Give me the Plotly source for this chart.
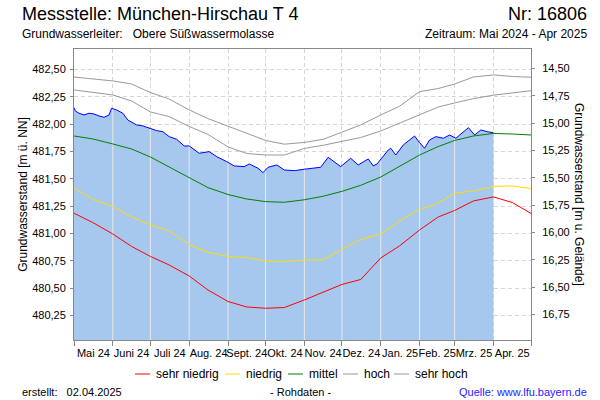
import numpy as np
import pandas as pd
import plotly.graph_objects as go

# ---------------- data ----------------
stat_dates = ["2024-05-01", "2024-05-16", "2024-06-01", "2024-06-16", "2024-07-01", "2024-07-16",
              "2024-08-01", "2024-08-16", "2024-09-01", "2024-09-16", "2024-10-01", "2024-10-16",
              "2024-11-01", "2024-11-16", "2024-12-01", "2024-12-16", "2025-01-01", "2025-01-16",
              "2025-02-01", "2025-02-16", "2025-03-01", "2025-03-16", "2025-04-01", "2025-04-16",
              "2025-05-01"]
sehr_hoch = [482.431, 482.415, 482.395, 482.367, 482.289, 482.230, 482.130, 482.051, 481.982, 481.910,
             481.851, 481.817, 481.833, 481.861, 481.924, 481.993, 482.084, 482.164, 482.297, 482.326,
             482.367, 482.431, 482.450, 482.436, 482.429]
hoch = [482.313, 482.290, 482.267, 482.212, 482.112, 482.069, 481.979, 481.906, 481.792, 481.732,
        481.718, 481.718, 481.778, 481.807, 481.842, 481.878, 481.938, 482.008, 482.084, 482.157,
        482.194, 482.233, 482.265, 482.285, 482.306]
mittel = [481.892, 481.865, 481.819, 481.773, 481.700, 481.609, 481.506, 481.420, 481.357, 481.316,
          481.292, 481.286, 481.309, 481.341, 481.386, 481.441, 481.517, 481.612, 481.718, 481.796,
          481.851, 481.892, 481.915, 481.910, 481.901]
niedrig = [481.417, 481.312, 481.248, 481.152, 481.079, 481.024, 480.900, 480.829, 480.791, 480.781,
           480.750, 480.743, 480.759, 480.759, 480.855, 480.946, 480.996, 481.115, 481.220, 481.280,
           481.368, 481.389, 481.431, 481.435, 481.412]
sehr_niedrig = [481.186, 481.101, 480.996, 480.882, 480.791, 480.713, 480.612, 480.484, 480.379, 480.329,
                480.317, 480.324, 480.393, 480.466, 480.535, 480.580, 480.777, 480.887, 481.033, 481.152,
                481.211, 481.298, 481.335, 481.284, 481.184]

obs_dates = ["2024-05-01", "2024-05-02", "2024-05-05", "2024-05-09", "2024-05-13", "2024-05-17",
             "2024-05-21", "2024-05-25", "2024-05-29", "2024-05-31", "2024-06-04", "2024-06-09",
             "2024-06-13", "2024-06-20", "2024-06-25", "2024-06-30", "2024-07-06", "2024-07-11",
             "2024-07-16", "2024-07-22", "2024-07-28", "2024-08-01", "2024-08-09", "2024-08-17",
             "2024-08-23", "2024-08-31", "2024-09-06", "2024-09-14", "2024-09-18", "2024-09-25",
             "2024-09-29", "2024-10-03", "2024-10-10", "2024-10-16", "2024-10-24", "2024-11-01",
             "2024-11-14", "2024-11-20", "2024-11-25", "2024-11-30", "2024-12-08", "2024-12-14",
             "2024-12-22", "2024-12-26", "2024-12-29", "2025-01-02", "2025-01-07", "2025-01-09",
             "2025-01-13", "2025-01-19", "2025-01-24", "2025-01-28", "2025-02-01", "2025-02-05",
             "2025-02-09", "2025-02-14", "2025-02-20", "2025-02-25", "2025-03-02", "2025-03-12",
             "2025-03-17", "2025-03-22", "2025-03-27", "2025-04-01"]
obs_values = [482.151, 482.121, 482.100, 482.084, 482.100, 482.093, 482.075, 482.063, 482.084, 482.145,
              482.130, 482.100, 482.038, 481.993, 481.984, 481.963, 481.941, 481.931, 481.886, 481.862,
              481.801, 481.801, 481.734, 481.749, 481.703, 481.657, 481.618, 481.612, 481.636, 481.597,
              481.557, 481.606, 481.627, 481.581, 481.575, 481.588, 481.606, 481.697, 481.657, 481.612,
              481.688, 481.627, 481.682, 481.618, 481.636, 481.691, 481.764, 481.780, 481.718, 481.810,
              481.856, 481.892, 481.831, 481.780, 481.856, 481.886, 481.871, 481.901, 481.871, 481.968,
              481.901, 481.947, 481.931, 481.922]

month_labels = ["Mai 24", "Juni 24", "Juli 24", "Aug. 24", "Sept. 24", "Okt. 24", "Nov. 24",
                "Dez. 24", "Jan. 25", "Feb. 25", "Mrz. 25", "Apr. 25"]
left_ticks = [480.25, 480.50, 480.75, 481.00, 481.25, 481.50, 481.75, 482.00, 482.25, 482.50]
right_ticks = [14.50, 14.75, 15.00, 15.25, 15.50, 15.75, 16.00, 16.25, 16.50, 16.75]
GROUND = 497.01  # Geländehöhe [m ü. NN]

series_names = ["sehr niedrig", "niedrig", "mittel", "hoch", "sehr hoch"]
series_values = [sehr_niedrig, niedrig, mittel, hoch, sehr_hoch]
series_colors = ["#ff0000", "#ffdd00", "#008000", "#999999", "#999999"]

# ---------------- layout geometry ----------------
W_PX, H_PX = 600, 400
L, R, T, B = 74, 69, 49, 60
PW, PH = W_PX - L - R, H_PX - T - B
Y_RANGE = [480.027, 482.687]
X_RANGE = ["2024-05-01", "2025-05-01"]
FONT = "Liberation Sans, Arial, sans-serif"


def px(x):
    return (x - L) / PW


def py(y):
    return (H_PX - B - y) / PH


month_starts = pd.date_range("2024-05-01", "2025-05-01", freq="MS")
month_mids = [s + (e - s) / 2 for s, e in zip(month_starts[:-1], month_starts[1:])]

# vertical light lines inside the filled area (at month starts)
obs_t = pd.to_datetime(obs_dates)
obs_num = (obs_t - obs_t[0]).days.values.astype(float)
vx, vy = [], []
for m in month_starts[1:]:
    if obs_t[0] < m < obs_t[-1]:
        d = float((m - obs_t[0]).days)
        top = float(np.interp(d, obs_num, obs_values))
        vx += [m, m, None]
        vy += [Y_RANGE[0], top, None]

fig = go.Figure()
fig.add_trace(go.Scatter(x=obs_dates, y=obs_values, mode="lines", line=dict(width=0, color="#a6c8ee"),
                         fill="tozeroy", fillcolor="#a6c8ee", showlegend=False, hoverinfo="skip"))
fig.add_trace(go.Scatter(x=vx, y=vy, mode="lines", line=dict(width=1, color="#e8e8e8"),
                         showlegend=False, hoverinfo="skip"))
# observed level, shown on the depth axis (m u. Gelände)
obs_depth = [GROUND - v for v in obs_values]
fig.add_trace(go.Scatter(x=obs_dates, y=obs_depth, mode="lines", line=dict(width=1, color="#0000ff"),
                         showlegend=False, name="Messwerte", xaxis="x", yaxis="y2"))

for name, vals, col in zip(series_names, series_values, series_colors):
    fig.add_trace(go.Scatter(x=stat_dates, y=vals, mode="lines", name=name, showlegend=False,
                             line=dict(width=1, color=col), xaxis="x2", yaxis="y"))

grid_col = "#d6d6d6"
axis_col = "#888888"
fig.update_layout(
    width=W_PX, height=H_PX,
    margin=dict(l=L, r=R, t=T, b=B, pad=0),
    paper_bgcolor="white", plot_bgcolor="white",
    separators=",.",
    font=dict(family=FONT, size=11, color="#000000"),
    showlegend=False,
    xaxis=dict(type="date", range=X_RANGE, tickvals=list(month_starts), showticklabels=False,
               ticks="outside", ticklen=5, tickcolor=axis_col, showgrid=True, gridcolor=grid_col,
               griddash="4px,3px", gridwidth=1, showline=True, linecolor=axis_col, mirror=True,
               zeroline=False),
    xaxis2=dict(type="date", range=X_RANGE, overlaying="x", anchor="y", side="bottom",
                tickvals=month_mids, ticktext=month_labels, ticks="", showgrid=False, tickangle=0,
                showline=False, zeroline=False, tickfont=dict(size=11), ticklabelstandoff=5),
    yaxis=dict(range=Y_RANGE, tickvals=left_ticks, tickformat=".2f", ticks="outside", ticklen=3,
               tickcolor=axis_col, showgrid=True, gridcolor=grid_col, griddash="4px,3px",
               showline=True, linecolor=axis_col, mirror=True, zeroline=False, ticklabelstandoff=2,
               title=dict(text="Grundwasserstand [m ü. NN]", font=dict(size=12), standoff=1)),
    yaxis2=dict(range=[GROUND - Y_RANGE[0], GROUND - Y_RANGE[1]], overlaying="y", side="right",
                anchor="x", tickvals=right_ticks, tickformat=".2f", ticks="outside", ticklen=3,
                tickcolor=axis_col, showgrid=False, showline=True, linecolor=axis_col,
                zeroline=False, ticklabelstandoff=5),
)

ann = [
    dict(text="Messstelle: München-Hirschau T 4", x=px(20), y=py(14), xanchor="left", yanchor="middle",
         font=dict(size=18)),
    dict(text="Nr: 16806", x=px(589), y=py(14), xanchor="right", yanchor="middle", font=dict(size=18)),
    dict(text="Grundwasserleiter:\u00a0\u00a0\u00a0Obere Süßwassermolasse", x=px(20), y=py(34),
         xanchor="left", yanchor="middle", font=dict(size=12)),
    dict(text="Zeitraum: Mai 2024 - Apr 2025", x=px(589), y=py(34), xanchor="right", yanchor="middle",
         font=dict(size=12)),
    dict(text="Grundwasserstand [m u. Gelände]", x=px(579), y=py(194), xanchor="center",
         yanchor="middle", textangle=90, font=dict(size=12)),
    dict(text="erstellt:\u00a0\u00a0\u00a002.04.2025", x=px(20), y=py(392), xanchor="left",
         yanchor="middle", font=dict(size=11)),
    dict(text="- Rohdaten -", x=px(300), y=py(392), xanchor="center", yanchor="middle",
         font=dict(size=11)),
    dict(text="Quelle: www.lfu.bayern.de", x=px(589), y=py(392), xanchor="right", yanchor="middle",
         font=dict(size=11, color="#2222ff")),
]

# legend row (line sample + label per statistic series)
legend_line_x = [135, 225, 288, 343, 394]
shapes = []
for lx, name, col in zip(legend_line_x, series_names, series_colors):
    shapes.append(dict(type="line", xref="paper", yref="paper", x0=px(lx), x1=px(lx + 15),
                       y0=py(374), y1=py(374), line=dict(color=col, width=1)))
    ann.append(dict(text=name, x=px(lx + 19), y=py(374), xanchor="left", yanchor="middle",
                    font=dict(size=12)))

for a in ann:
    a.update(xref="paper", yref="paper", showarrow=False)
fig.update_layout(annotations=ann, shapes=shapes)

fig.write_html("out.html", config={"displayModeBar": False},
               post_script="document.body.style.margin='0px';")
